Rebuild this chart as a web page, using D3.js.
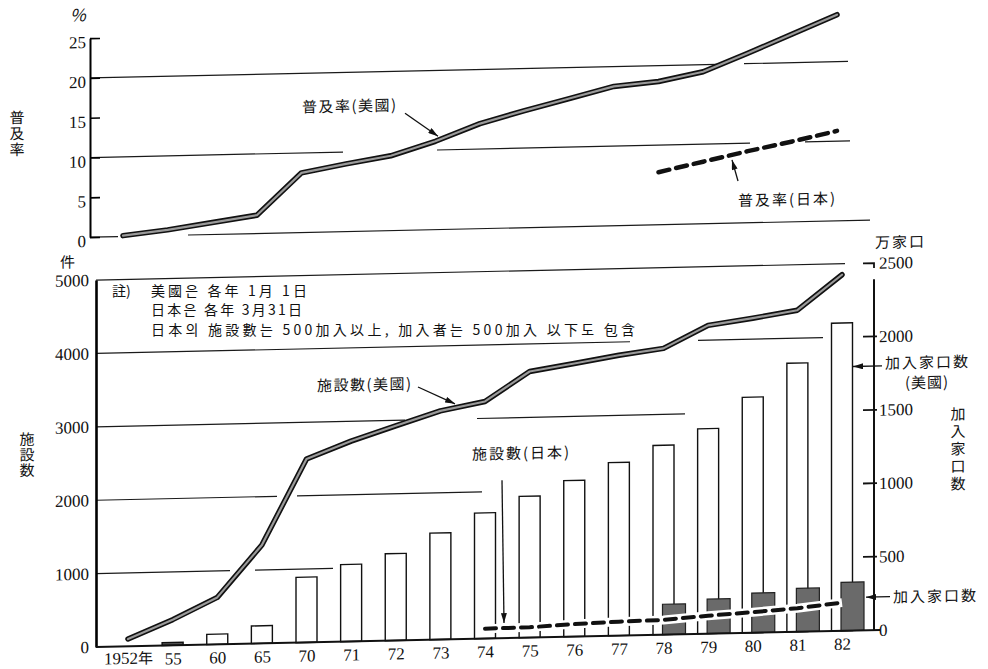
<!DOCTYPE html>
<html>
<head>
<meta charset="utf-8">
<script src="https://cdn.jsdelivr.net/npm/d3@7"></script>
<style>
  body { margin: 0; background: #fff; }
  svg { display: block; }
  .cjk { font-family: "Noto Sans CJK KR", "Noto Sans CJK JP", sans-serif; fill: #111; }
  .num { font-family: "Liberation Serif", "DejaVu Serif", serif; font-size: 17px; fill: #111; }
</style>
</head>
<body>
<script>
// categories (x axis)
const years = ["1952年", "55", "60", "65", "70", "71", "72", "73", "74", "75", "76", "77", "78", "79", "80", "81", "82"];

// top panel: 普及率 (%)
const usPenetration = [0.1, 0.7, 1.5, 2.3, 7.5, 8.5, 9.4, 11.1, 13.2, 14.7, 16.1, 17.5, 18.0, 19.1, 21.3, 23.6, 25.9];
const jpPenetration = [null, null, null, null, null, null, null, null, null, null, null, null, 6.6, 7.8, 9.0, 10.1, 11.3];

// bottom panel: 施設數 (件, left axis)
const usFacilities = [100, 350, 640, 1340, 2500, 2730, 2925, 3115, 3230, 3625, 3720, 3820, 3900, 4200, 4285, 4380, 4850];
const jpFacilities = [null, null, null, null, null, null, null, null, 135, 140, 170, 190, 200, 245, 280, 320, 383];

// bottom panel: 加入家口數 (万家口, right axis)
const usSubscribers = [null, 20, 70, 120, 445, 525, 592, 726, 856, 963, 1064, 1180, 1290, 1397, 1605, 1830, 2096];
const jpSubscribers = [null, null, null, null, null, null, null, null, null, null, null, null, 207, 235, 270, 295, 330];

const topTicks = [0, 5, 10, 15, 20, 25];
const leftTicks = [0, 1000, 2000, 3000, 4000, 5000];
const rightTicks = [0, 500, 1000, 1500, 2000, 2500];

const noteLines = [
  "美國은 各年 1月 1日",
  "日本은 各年 3月31日",
  "日本의 施設數는 500加入以上, 加入者는 500加入 以下도 包含"
];

// layout
const W = 988, H = 669;
const skewDeg = -1.25;   // the printed page is slightly slanted
const pivotX = 97;
const topShift = -5;     // top panel sits a little to the left
const axisTopX = 90, axisLeftX = 96, axisRightX = 874;
const numFont = "Liberation Serif";

// broken grid lines (screen x ranges)
const topGrid = [
  { v: 20, segs: [[90, 717], [744, 848]] },
  { v: 10, segs: [[90, 343], [437, 750], [805, 850]] },
  { v: 0, segs: [[90, 118], [188, 870]] }
];
const bottomGrid = [
  { v: 5000, segs: [[96, 845]] },
  { v: 4000, segs: [[96, 630], [698, 823]] },
  { v: 3000, segs: [[96, 405], [477, 685]] },
  { v: 2000, segs: [[96, 277], [297, 482]] },
  { v: 1000, segs: [[96, 230], [255, 333]] }
];

const x = d3.scalePoint().domain(years).range([128, 842]);
const yTop = d3.scaleLinear().domain([0, 25]).range([237, 38]);
const yLeft = d3.scaleLinear().domain([0, 5000]).range([647, 280]);
const yRight = d3.scaleLinear().domain([0, 2500]).range([647, 280]);

const svg = d3.select("body").append("svg").attr("width", W).attr("height", H);

svg.append("defs").append("marker")
  .attr("id", "arrow")
  .attr("viewBox", "0 0 10 6")
  .attr("refX", 10).attr("refY", 3)
  .attr("markerWidth", 11).attr("markerHeight", 6)
  .attr("markerUnits", "userSpaceOnUse")
  .attr("orient", "auto")
  .append("path").attr("d", "M0,0 L10,3 L0,6 Z").attr("fill", "#111");

const page = svg.append("g")
  .attr("transform", `translate(0,${(Math.tan(-skewDeg * Math.PI / 180) * pivotX).toFixed(2)}) skewY(${skewDeg})`);

function seriesPoints(values, yScale, shift) {
  return years.map((yr, i) => [x(yr) + shift, values[i]])
    .filter((p) => p[1] != null)
    .map((p) => [p[0], yScale(p[1])]);
}

function yOnLine(values, yScale, px, shift) {
  const pts = seriesPoints(values, yScale, shift);
  for (let i = 1; i < pts.length; i++) {
    if (px <= pts[i][0]) {
      const t = (px - pts[i - 1][0]) / (pts[i][0] - pts[i - 1][0]);
      return pts[i - 1][1] + t * (pts[i][1] - pts[i - 1][1]);
    }
  }
  return pts[pts.length - 1][1];
}

function drawGrid(grid, yScale) {
  grid.forEach(({ v, segs }) => {
    segs.forEach(([a, b]) => {
      page.append("line")
        .attr("x1", a).attr("x2", b)
        .attr("y1", yScale(v)).attr("y2", yScale(v))
        .attr("stroke", "#1a1a1a").attr("stroke-width", 1.2);
    });
  });
}

function thickLine(values, yScale, shift) {
  const d = d3.line()(seriesPoints(values, yScale, shift));
  page.append("path").attr("d", d).attr("fill", "none")
    .attr("stroke", "#111").attr("stroke-width", 5.5)
    .attr("stroke-linejoin", "round").attr("stroke-linecap", "round");
  page.append("path").attr("d", d).attr("fill", "none")
    .attr("stroke", "#9a9a9a").attr("stroke-width", 2.2)
    .attr("stroke-linejoin", "round").attr("stroke-linecap", "round");
}

function dashedLine(values, yScale, shift, width, halo) {
  const d = d3.line()(seriesPoints(values, yScale, shift));
  if (halo) {
    page.append("path").attr("d", d).attr("fill", "none")
      .attr("stroke", "#fff").attr("stroke-width", halo);
  }
  page.append("path").attr("d", d).attr("fill", "none")
    .attr("stroke", "#111").attr("stroke-width", width)
    .attr("stroke-dasharray", "11 7").attr("stroke-linecap", "round");
}

function addBars() {
  const bars = years.map((yr, i) => ({ yr, us: usSubscribers[i], jp: jpSubscribers[i] }));

  page.selectAll(".usBar")
    .data(bars.filter((d) => d.us != null))
    .enter().append("rect")
    .attr("class", "usBar")
    .attr("x", (d) => x(d.yr) - 10.5)
    .attr("y", (d) => yRight(d.us))
    .attr("width", 21)
    .attr("height", (d) => yRight(0) - yRight(d.us))
    .attr("fill", (d) => d.us < 40 ? "#555" : "#fff")
    .attr("stroke", "#111").attr("stroke-width", 1.4);

  page.selectAll(".jpBar")
    .data(bars.filter((d) => d.jp != null))
    .enter().append("rect")
    .attr("class", "jpBar")
    .attr("x", (d) => x(d.yr) - 1)
    .attr("y", (d) => yRight(d.jp))
    .attr("width", 23)
    .attr("height", (d) => yRight(0) - yRight(d.jp))
    .attr("fill", "#6a6a6a").attr("stroke", "#222").attr("stroke-width", 1.2);
}

function styleAxis(g) {
  g.attr("font-family", null).attr("font-size", null);
  g.selectAll("text").attr("class", "num").attr("fill", null)
    .attr("font-family", numFont).attr("font-size", 17);
}

function addAxes() {
  // top % axis
  page.append("g")
    .attr("transform", `translate(${axisTopX},0)`)
    .call(d3.axisLeft(yTop).tickValues(topTicks).tickSize(-10).tickSizeOuter(0).tickPadding(4))
    .call(styleAxis)
    .call((g) => g.select(".domain").attr("stroke-width", 2))
    .call((g) => g.selectAll(".tick line").attr("stroke-width", 1.6))
    .call((g) => g.selectAll(".tick text").attr("dy", "0.55em"));

  // left 件 axis
  page.append("g")
    .attr("transform", `translate(${axisLeftX},0)`)
    .call(d3.axisLeft(yLeft).tickValues(leftTicks).tickFormat(d3.format("d"))
      .tickSize(0).tickSizeOuter(0).tickPadding(7))
    .call(styleAxis)
    .call((g) => g.select(".domain").attr("stroke-width", 2.6));

  // baseline
  page.append("line")
    .attr("x1", axisLeftX).attr("x2", axisRightX + 6)
    .attr("y1", yLeft(0)).attr("y2", yLeft(0))
    .attr("stroke", "#111").attr("stroke-width", 2);

  // right 万家口 axis
  const r = page.append("g").attr("transform", `translate(${axisRightX},0)`);
  r.append("line").attr("x1", 0).attr("x2", 0)
    .attr("y1", yRight(2390)).attr("y2", yRight(0))
    .attr("stroke", "#111").attr("stroke-width", 2);
  r.append("path")
    .attr("d", `M-11,${yRight(2500)}H0V${yRight(2500) + 5}`)
    .attr("fill", "none").attr("stroke", "#111").attr("stroke-width", 1.8);
  r.selectAll(".rtick")
    .data(rightTicks.filter((v) => v > 0 && v < 2500))
    .enter().append("line")
    .attr("x1", -11).attr("x2", 3)
    .attr("y1", (v) => yRight(v)).attr("y2", (v) => yRight(v))
    .attr("stroke", "#111").attr("stroke-width", 1.8);
  r.selectAll(".rlabel")
    .data(rightTicks)
    .enter().append("text")
    .attr("class", "num")
    .attr("font-family", numFont).attr("font-size", 17)
    .attr("x", 5)
    .attr("y", (v) => yRight(v))
    .attr("dy", "0.35em")
    .text((v) => v);

  // x labels
  page.append("g")
    .attr("transform", `translate(0,${yLeft(0)})`)
    .call(d3.axisBottom(x).tickSize(0).tickPadding(7))
    .call(styleAxis)
    .call((g) => g.select(".domain").remove())
    .call((g) => g.selectAll("text").filter((d) => d === years[0])
      .attr("class", "cjk").attr("font-family", "Noto Sans CJK KR").attr("font-size", 15)
      .html(`<tspan font-family="${numFont}" font-size="17">1952</tspan>年`));
}

function label(g, text, px, py, size, spacing) {
  return g.append("text").attr("class", "cjk")
    .attr("x", px).attr("y", py)
    .attr("font-size", size)
    .attr("letter-spacing", spacing || 0)
    .text(text);
}

function arrow(g, x1, y1, x2, y2) {
  g.append("line")
    .attr("x1", x1).attr("y1", y1).attr("x2", x2).attr("y2", y2)
    .attr("stroke", "#111").attr("stroke-width", 1.3)
    .attr("marker-end", "url(#arrow)");
}

function verticalLabel(g, chars, cx, y0, step, size) {
  chars.split("").forEach((c, i) => {
    g.append("text").attr("class", "cjk")
      .attr("x", cx).attr("y", y0 + i * step)
      .attr("text-anchor", "middle").attr("dy", "0.35em")
      .attr("font-size", size).text(c);
  });
}

function addAnnotations() {
  label(page, "普及率(美國)", 302, 117, 15, 1.5);
  arrow(page, 405, 120, 438, yOnLine(usPenetration, yTop, 438, topShift) - 4);

  label(page, "普及率(日本)", 738, 220, 15, 2);
  arrow(page, 738, 195, 732, yOnLine(jpPenetration, yTop, 732, topShift) + 5);

  label(page, "施設數(美國)", 317, 396, 15, 1.5);
  arrow(page, 418, 394, 455, yOnLine(usFacilities, yLeft, 455, 0) - 4);

  label(page, "施設數(日本)", 472, 468, 15, 2);
  arrow(page, 502, 489, 504, yOnLine(jpFacilities, yLeft, 504, 0) - 5);

  label(page, "加入家口数", 885, 386, 15, 2);
  label(page, "(美國)", 905, 406, 15, 1);
  arrow(page, 882, 383, 853, 383);

  label(page, "加入家口数", 893, 620, 15, 2);
  arrow(page, 890, 614, 866, 614);

  // axis titles
  label(page, "%", 70, 21, 17, 0).attr("font-family", numFont).attr("font-style", "italic");
  verticalLabel(page, "普及率", 17, 116, 16, 15);
  label(page, "件", 60, 267, 15, 0);
  verticalLabel(page, "施設数", 27, 438, 15.5, 15);
  label(page, "万家口", 875, 265, 15, 2);
  verticalLabel(page, "加入家口数", 958, 433, 17.5, 15);

  // note (printed straight, not slanted)
  svg.append("text").attr("class", "cjk").attr("x", 112).attr("y", 296).attr("font-size", 14).text("註)");
  const noteY = [296, 315, 335];
  const noteW = [156, 151, 484];
  noteLines.forEach((t, i) => {
    svg.append("text").attr("class", "cjk")
      .attr("x", 151).attr("y", noteY[i])
      .attr("font-size", 14)
      .attr("textLength", noteW[i]).attr("lengthAdjust", "spacing")
      .text(t);
  });
}

// top panel
drawGrid(topGrid, yTop);
thickLine(usPenetration, yTop, topShift);
dashedLine(jpPenetration, yTop, topShift, 4.5, 0);

// bottom panel
drawGrid(bottomGrid, yLeft);
addBars();
thickLine(usFacilities, yLeft, 0);
dashedLine(jpFacilities, yLeft, 0, 4, 9);

addAxes();
addAnnotations();
</script>
</body>
</html>
